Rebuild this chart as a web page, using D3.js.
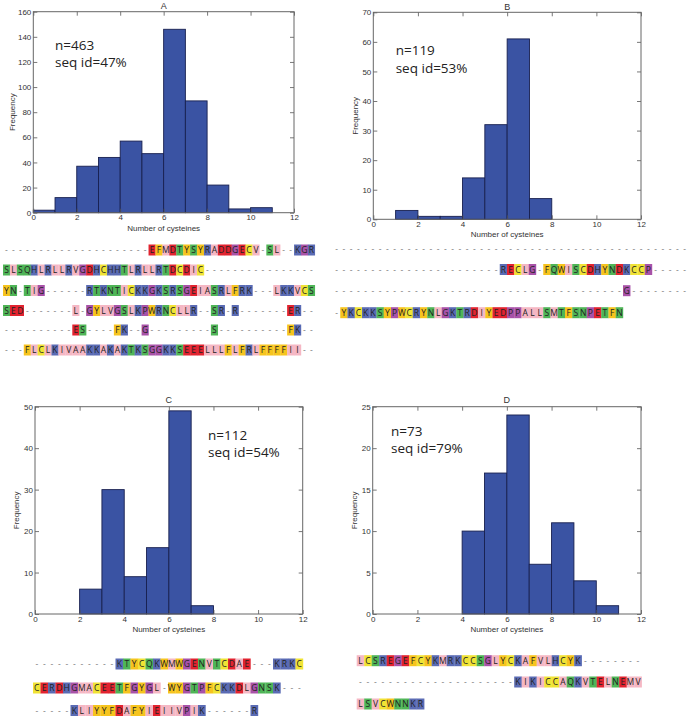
<!DOCTYPE html>
<html>
<head>
<meta charset="utf-8">
<script src="https://cdn.jsdelivr.net/npm/d3@7"></script>
<style>
html,body{margin:0;padding:0;background:#fff;}
svg{display:block;}
</style>
</head>
<body>
<svg id="chart" width="689" height="719"></svg>
<script>
// ---------- DATA ----------
const binStarts = [0,1,2,3,4,5,6,7,8,9,10,11];
const countsA = [2,12,37,44,57,47,146,89,22,3,4,0];
const countsB = [0,3,1,1,14,32,61,7,0,0,0,0];
const countsC = [0,0,6,30,9,16,49,2,0,0,0,0];
const countsD = [0,0,0,0,10,17,24,6,11,4,1,0];
const xTicks = [0,2,4,6,8,10,12];
const yTicksA = [0,20,40,60,80,100,120,140,160];
const yTicksB = [0,10,20,30,40,50,60,70];
const yTicksC = [0,10,20,30,40,50];
const yTicksD = [0,5,10,15,20,25];
const titles = ["A","B","C","D"];
const notesN = ["n=463","n=119","n=112","n=73"];
const notesId = ["seq id=47%","seq id=53%","seq id=54%","seq id=79%"];
const xLabel = "Number of cysteines";
const yLabel = "Frequency";

const seqA = [
  "---------------------EFMDTYSYRADDGECV-SL--KGR",
  "SLSQHLRLLRVGDHCHHTLRLLRTDCDIC----------------",
  "YN-TIG------RTKNTICKKGKSRSGEIASRLFRK---LKKVCS",
  "SED-------L-GYLVGSLKPWRNCLLR--SR-R-------ER--",
  "----------ES----FK--G---------S----------FK--",
  "---FLCLKIVAAKKAKAKTKSGGKKSEEELLLFLFRLFFFFII--"
];
const seqB = [
  "-------------------------------------------------",
  "-----------------------RECLG-FQWISCDHYNDKCCP-----",
  "----------------------------------------G--------",
  "-YKCKKSYPWCRYNLGKTRDIYEDPPALLSMTFSNPETFN"
];
const seqC = [
  "-----------KTYCQKWMWGENVTCDAE---KRKC",
  "CERDHGMACEETFGYGL-WYGTPFCKKDLGNSK---",
  "-----KLIYYFDAFYIEIIVPIK------R"
];
const seqD = [
  "LCSREGEFCYKMRKCCSGLYCKAFVLHCYK--------",
  "---------------------KIKICCAQKVTELNEMV",
  "LSVCWNNKR"
];

// residue colour classes (Zappo-like)
const residueGroups = ["ILVAM","FWY","C","KRH","DE","STNQ","PG"];
const groupColors = ["#f5b7c4","#f6c41e","#f0e335","#5a6bb4","#e1232f","#4fb557","#a852a8"];

// ---------- LAYOUT ----------
const layout = [
  {left:33.3, right:294, top:11.7, bottom:212.7, titleY:9, noteX:55, noteY:[50,67], xlabY:231, ylabX:12},
  {left:373.3, right:641, top:12.3, bottom:219.3, titleY:10, noteX:395.7, noteY:[55,73], xlabY:236.5, ylabX:355},
  {left:35, right:302.7, top:406.7, bottom:614, titleY:403, noteX:208, noteY:[440,457], xlabY:631.5, ylabX:16},
  {left:372.7, right:641, top:406.7, bottom:614, titleY:403, noteX:391, noteY:[436,453], xlabY:631.5, ylabX:354}
];
const seqLayout = [
  {x0:3, cw:6.93, rows:[250,270,290.5,310.5,330,350]},
  {x0:333, cw:7.25, rows:[248.5,269.5,290.7,312.7]},
  {x0:33, cw:7.5, rows:[664,688,710.5]},
  {x0:356.7, cw:7.5, rows:[660.7,682,704]}
];

const svg = d3.select("#chart");
const allCounts = [countsA,countsB,countsC,countsD];
const allYTicks = [yTicksA,yTicksB,yTicksC,yTicksD];
const allSeqs = [seqA,seqB,seqC,seqD];

const colorOf = ch => {
  for (let i=0;i<residueGroups.length;i++) if (residueGroups[i].includes(ch)) return groupColors[i];
  return "#ccc";
};

const axisFont = "'Liberation Sans', Arial, sans-serif";

allCounts.forEach((counts, p) => {
  const L = layout[p];
  const yT = allYTicks[p];
  const x = d3.scaleLinear().domain([0,12]).range([L.left, L.right]);
  const y = d3.scaleLinear().domain([0, yT[yT.length-1]]).range([L.bottom, L.top]);
  const g = svg.append("g");

  // bars
  const bins = binStarts.map((b,i)=>({x0:b, x1:b+1, v:counts[i]})).filter(d=>d.v>0);
  g.selectAll("rect.bar").data(bins).join("rect")
    .attr("class","bar")
    .attr("x", d=>x(d.x0))
    .attr("y", d=>y(d.v))
    .attr("width", d=>x(d.x1)-x(d.x0))
    .attr("height", d=>y(0)-y(d.v))
    .attr("fill","#3a53a3")
    .attr("stroke","#18204f")
    .attr("stroke-width",0.9);

  // axes (inward ticks on all sides)
  const styleAxis = sel => {
    sel.select(".domain").remove();
    sel.selectAll(".tick line").attr("stroke","#555").attr("stroke-width",0.8);
    sel.selectAll(".tick text").attr("fill","#333").style("font-family",axisFont).style("font-size","8px");
  };
  g.append("g").attr("transform",`translate(0,${L.bottom})`)
    .call(d3.axisBottom(x).tickValues(xTicks).tickSizeInner(-4).tickSizeOuter(0).tickPadding(2).tickFormat(d3.format("d")))
    .call(styleAxis);
  g.append("g").attr("transform",`translate(0,${L.top})`)
    .call(d3.axisTop(x).tickValues(xTicks).tickSizeInner(-4).tickSizeOuter(0).tickFormat(""))
    .call(styleAxis);
  g.append("g").attr("transform",`translate(${L.left},0)`)
    .call(d3.axisLeft(y).tickValues(yT).tickSizeInner(-4).tickSizeOuter(0).tickPadding(2).tickFormat(d3.format("d")))
    .call(styleAxis);
  g.append("g").attr("transform",`translate(${L.right},0)`)
    .call(d3.axisRight(y).tickValues(yT).tickSizeInner(-4).tickSizeOuter(0).tickFormat(""))
    .call(styleAxis);

  // frame
  g.append("rect")
    .attr("x",L.left).attr("y",L.top)
    .attr("width",L.right-L.left).attr("height",L.bottom-L.top)
    .attr("fill","none").attr("stroke","#666").attr("stroke-width",1);

  // title
  g.append("text").attr("x",(L.left+L.right)/2).attr("y",L.titleY)
    .attr("text-anchor","middle").attr("fill","#333")
    .style("font-family",axisFont).style("font-size","9px").text(titles[p]);

  // axis labels
  g.append("text").attr("x",(L.left+L.right)/2).attr("y",L.xlabY)
    .attr("text-anchor","middle").attr("fill","#333")
    .style("font-family",axisFont).style("font-size","8px").text(xLabel);
  g.append("text")
    .attr("transform",`translate(${L.ylabX},${(L.top+L.bottom)/2}) rotate(-90)`)
    .attr("text-anchor","middle").attr("dy","0.35em").attr("fill","#333")
    .style("font-family",axisFont).style("font-size","8px").text(yLabel);

  // annotations
  g.append("text").attr("x",L.noteX).attr("y",L.noteY[0]).attr("fill","#222")
    .style("font-family","'Open Sans', sans-serif").style("font-size","13.5px").text(notesN[p]);
  g.append("text").attr("x",L.noteX).attr("y",L.noteY[1]).attr("fill","#222")
    .style("font-family","'Open Sans', sans-serif").style("font-size","13.5px").text(notesId[p]);

  // sequences
  const S = seqLayout[p];
  const seqs = allSeqs[p];
  seqs.forEach((row, r) => {
    const chars = row.split("").map((c,i)=>({c,i}));
    const sx = d3.scaleLinear().domain([0,1]).range([S.x0, S.x0+S.cw]);
    const cy = S.rows[r];
    const rg = svg.append("g");
    rg.selectAll("rect").data(chars.filter(d=>d.c!=="-")).join("rect")
      .attr("x", d=>sx(d.i))
      .attr("y", cy-5.5)
      .attr("width", S.cw+0.2)
      .attr("height", 11)
      .attr("fill", d=>colorOf(d.c));
    rg.selectAll("text").data(chars).join("text")
      .attr("x", d=>sx(d.i+0.5))
      .attr("y", cy)
      .attr("dy","0.36em")
      .attr("text-anchor","middle")
      .attr("fill", d=>d.c==="-" ? "#777" : "#222")
      .style("font-family","'Open Sans', sans-serif")
      .style("font-size","8.5px")
      .text(d=>d.c);
  });
});
</script>
</body>
</html>
